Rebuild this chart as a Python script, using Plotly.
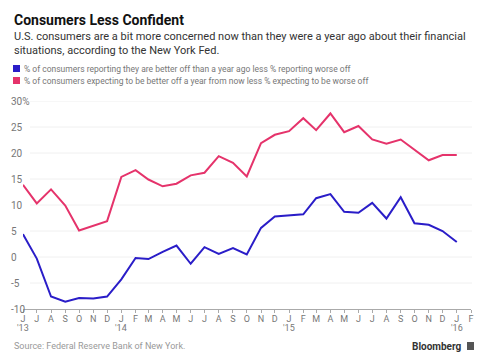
import plotly.graph_objects as go

months = ["2013-06","2013-07","2013-08","2013-09","2013-10","2013-11","2013-12",
          "2014-01","2014-02","2014-03","2014-04","2014-05","2014-06","2014-07","2014-08","2014-09","2014-10","2014-11","2014-12",
          "2015-01","2015-02","2015-03","2015-04","2015-05","2015-06","2015-07","2015-08","2015-09","2015-10","2015-11","2015-12",
          "2016-01"]
current = [4.4, -0.3, -7.6, -8.6, -7.9, -8.0, -7.6,
           -4.3, -0.2, -0.4, 1.0, 2.2, -1.3, 1.9, 0.6, 1.7, 0.5, 5.6, 7.8,
           8.0, 8.2, 11.3, 12.1, 8.7, 8.5, 10.4, 7.4, 11.5, 6.5, 6.2, 5.0,
           2.9]
expected = [13.9, 10.3, 13.0, 9.9, 5.1, 6.0, 6.9,
            15.4, 16.7, 14.9, 13.6, 14.1, 15.7, 16.2, 19.4, 18.1, 15.5, 21.9, 23.5,
            24.2, 26.7, 24.4, 27.6, 24.0, 25.2, 22.6, 21.8, 22.6, 20.7, 18.6, 19.6,
            19.6]
tick_months = ["2013-06","2013-07","2013-08","2013-09","2013-10","2013-11","2013-12",
               "2014-01","2014-02","2014-03","2014-04","2014-05","2014-06","2014-07","2014-08","2014-09","2014-10","2014-11","2014-12",
               "2015-01","2015-02","2015-03","2015-04","2015-05","2015-06","2015-07","2015-08","2015-09","2015-10","2015-11","2015-12",
               "2016-01","2016-02"]
tick_text = ["J","J","A","S","O","N","D",
             "J","F","M","A","M","J","J","A","S","O","N","D",
             "J","F","M","A","M","J","J","A","S","O","N","D",
             "J","F"]
year_months = ["2013-06", "2014-01", "2015-01", "2016-01"]
year_text = ["'13", "'14", "'15", "'16"]
y_ticks = [-10, -5, 0, 5, 10, 15, 20, 25, 30]
y_text = ["-10", "-5", "0", "5", "10", "15", "20", "25", "30%"]

BLUE = "#2a1dc8"
PINK = "#e5336b"
FONT = "Roboto, Arial, sans-serif"

# page body has an 8px margin; figure sized so it fits the 488x364 window
OFF = 8
W, H = 480, 356
L, R, T, B = 23 - OFF, 17, 101 - OFF, 55
PW, PH = W - L - R, H - T - B

def px(x):  # x given in window pixels
    return (x - OFF - L) / PW

def py(y):  # y given in window pixels
    return (H - B - (y - OFF)) / PH

fig = go.Figure()
fig.add_trace(go.Scatter(x=months, y=expected, mode="lines",
                         line=dict(color=PINK, width=2), showlegend=False, hoverinfo="skip"))
fig.add_trace(go.Scatter(x=months, y=current, mode="lines",
                         line=dict(color=BLUE, width=2), showlegend=False, hoverinfo="skip"))

shapes = []
for v in y_ticks[1:]:
    shapes.append(dict(type="line", xref="paper", yref="y", x0=px(30), x1=px(472), y0=v, y1=v,
                       line=dict(color="#f0f0f0", width=1), layer="below"))
shapes.append(dict(type="rect", xref="paper", yref="paper", x0=px(13), x1=px(20), y0=py(72), y1=py(65),
                   fillcolor=BLUE, line=dict(width=0)))
shapes.append(dict(type="rect", xref="paper", yref="paper", x0=px(13), x1=px(20), y0=py(84), y1=py(77),
                   fillcolor=PINK, line=dict(width=0)))
shapes.append(dict(type="rect", xref="paper", yref="paper", x0=px(467), x1=px(474), y0=py(350), y1=py(342),
                   fillcolor="#555555", line=dict(width=0)))

annotations = []
for v, t in zip(y_ticks, y_text):
    annotations.append(dict(x=px(9), y=v, xref="paper", yref="y", text=t, showarrow=False,
                            xanchor="left", yanchor="middle",
                            font=dict(size=10, color="#777777", family=FONT)))
for m, t in zip(year_months, year_text):
    annotations.append(dict(x=m, y=py(328), xref="x", yref="paper", text=t, showarrow=False,
                            xanchor="center", yanchor="middle",
                            font=dict(size=9, color="#777777", family=FONT)))
annotations += [
    dict(x=px(12), y=py(20), xref="paper", yref="paper", text="<b>Consumers Less Confident</b>",
         showarrow=False, xanchor="left", yanchor="middle",
         font=dict(size=14, color="#111111", family=FONT)),
    dict(x=px(12), y=py(43), xref="paper", yref="paper",
         text="U.S. consumers are a bit more concerned now than they were a year ago about their financial<br>situations, according to the New York Fed.",
         showarrow=False, xanchor="left", yanchor="middle", align="left",
         font=dict(size=11, color="#333333", family=FONT)),
    dict(x=px(22), y=py(68.5), xref="paper", yref="paper",
         text="% of consumers reporting they are better off than a year ago less % reporting worse off",
         showarrow=False, xanchor="left", yanchor="middle",
         font=dict(size=8.5, color="#777777", family=FONT)),
    dict(x=px(22), y=py(80.5), xref="paper", yref="paper",
         text="% of consumers expecting to be better off a year from now less % expecting to be worse off",
         showarrow=False, xanchor="left", yanchor="middle",
         font=dict(size=8.5, color="#777777", family=FONT)),
    dict(x=px(12), y=py(346), xref="paper", yref="paper", text="Source: Federal Reserve Bank of New York.",
         showarrow=False, xanchor="left", yanchor="middle",
         font=dict(size=9, color="#999999", family=FONT)),
    dict(x=px(464), y=py(346), xref="paper", yref="paper", text="<b>Bloomberg</b>",
         showarrow=False, xanchor="right", yanchor="middle",
         font=dict(size=10, color="#333333", family=FONT)),
]

fig.update_layout(
    width=W, height=H,
    margin=dict(l=L, r=R, t=T, b=B),
    paper_bgcolor="white", plot_bgcolor="white",
    shapes=shapes, annotations=annotations,
    xaxis=dict(type="date", range=["2013-06-01", "2016-02-01"],
               tickmode="array", tickvals=tick_months, ticktext=tick_text,
               showgrid=False, zeroline=False,
               showline=True, linecolor="#aaaaaa", linewidth=1,
               ticks="outside", ticklen=3, tickcolor="#aaaaaa",
               ticklabelstandoff=-2,
               tickfont=dict(size=9, color="#777777", family=FONT)),
    yaxis=dict(range=[-10, 30], tickvals=y_ticks, showticklabels=False,
               showgrid=False, zeroline=False, showline=False, fixedrange=True),
)

fig.write_html("out.html")
